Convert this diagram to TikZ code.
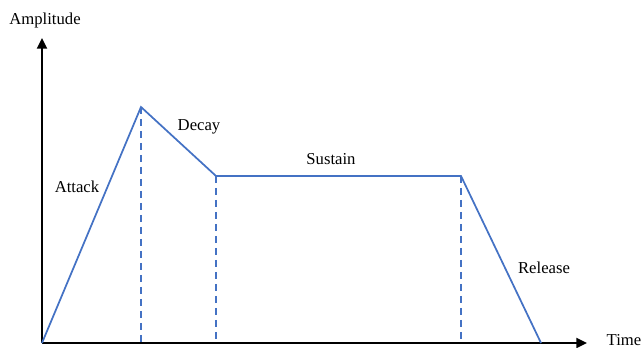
\documentclass[tikz,border=0pt]{standalone}
\usepackage{fontspec}
\setmainfont{Liberation Serif}
\usetikzlibrary{arrows.meta}
\definecolor{envblue}{RGB}{68,114,196}
\begin{document}
\begin{tikzpicture}[x=0.75pt,y=-0.75pt,
  axis/.style={line width=1.4pt,-{Triangle[length=8pt,width=7.5pt]}},
  envline/.style={envblue,line width=1.3pt,line join=miter},
  guide/.style={envblue,line width=1.1pt,dash pattern=on 5.2pt off 3.8pt},
  lbl/.style={font=\fontsize{12.5}{15}\selectfont,inner sep=0pt}]
\useasboundingbox (0,0) rectangle (641,348);
% axes
\coordinate (o) at (42,343);
\coordinate (ytop) at (42,38);
\coordinate (xend) at (587,343);
\draw[axis] (o) -- (ytop);
\draw[axis] (o) -- (xend);
% envelope corners
\coordinate (peak) at (141,107);
\coordinate (dend) at (216,176);
\coordinate (send) at (461,176);
\coordinate (rend) at (541,343);
\coordinate (peakb) at (141,343);
\coordinate (dendb) at (216,343);
\coordinate (sendb) at (461,343);
\draw[envline] (o) -- (peak) -- (dend) -- (send) -- (rend);
\draw[guide] (peak) -- (peakb);
\draw[guide] (dend) -- (dendb);
\draw[guide] (send) -- (sendb);
% labels
\node[lbl] (amp) at (45,20) {Amplitude};
\node[lbl] (time) at (624,340) {Time};
\node[lbl] (atk) at (77,187) {Attack};
\node[lbl] (dec) at (199,127) {Decay};
\node[lbl] (sus) at (331,159) {Sustain};
\node[lbl] (rel) at (544,268) {Release};
\end{tikzpicture}
\end{document}
